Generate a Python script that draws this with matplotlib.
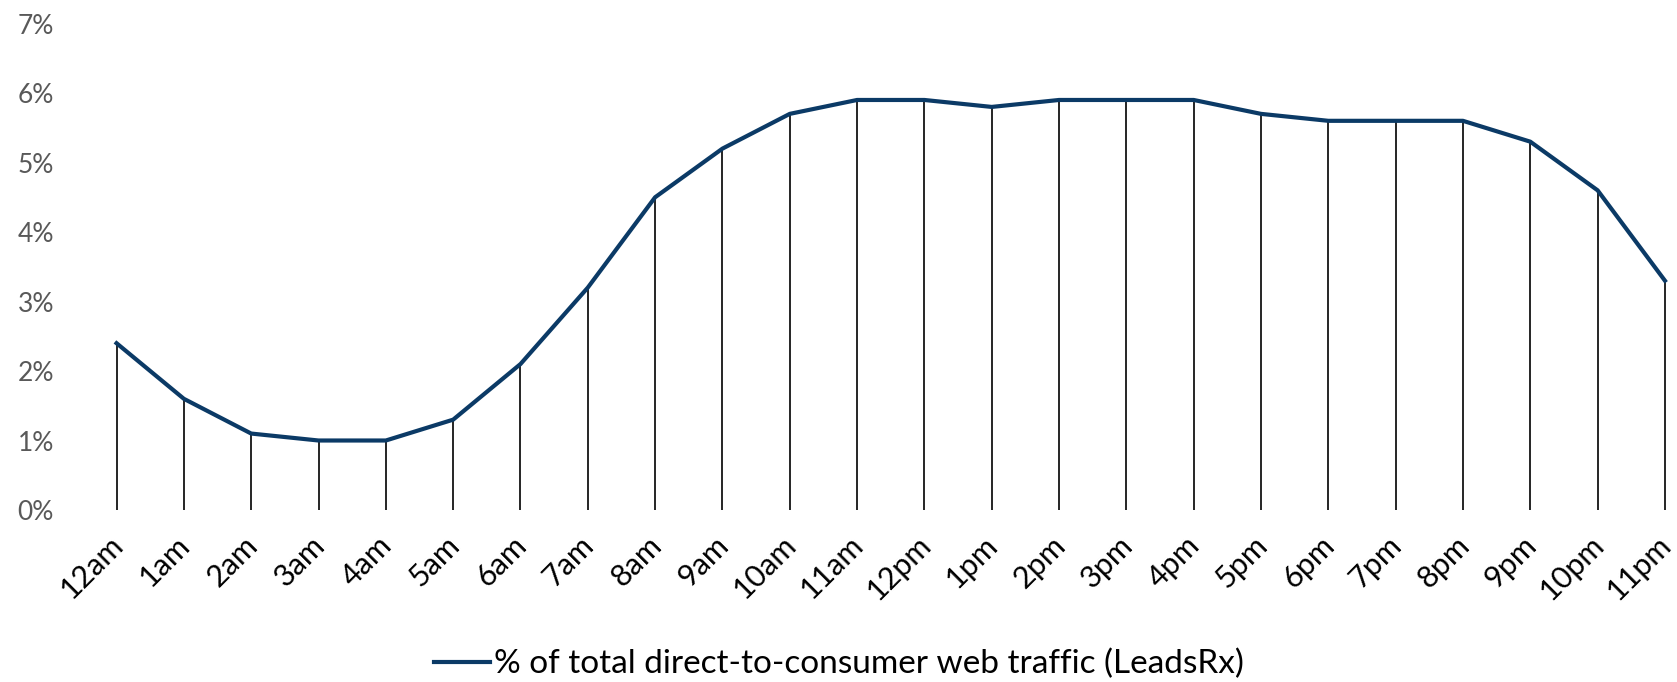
import matplotlib
matplotlib.use("Agg")
import matplotlib.pyplot as plt
import matplotlib.ticker as mticker
import matplotlib.transforms as mtransforms

plt.rcParams['font.family'] = ['Lato', 'DejaVu Sans']

# hourly share of traffic, in percent
hours = ["12am", "1am", "2am", "3am", "4am", "5am", "6am", "7am", "8am", "9am",
         "10am", "11am", "12pm", "1pm", "2pm", "3pm", "4pm", "5pm", "6pm", "7pm",
         "8pm", "9pm", "10pm", "11pm"]
traffic = [2.4, 1.6, 1.1, 1.0, 1.0, 1.3, 2.1, 3.2, 4.5, 5.2,
           5.7, 5.9, 5.9, 5.8, 5.9, 5.9, 5.9, 5.7, 5.6, 5.6,
           5.6, 5.3, 4.6, 3.3]
y_ticks = [0, 1, 2, 3, 4, 5, 6, 7]
series_label = "% of total direct-to-consumer web traffic (LeadsRx)"

fig = plt.figure(figsize=(16.77, 6.82), dpi=100)
ax = fig.add_axes([0.0695, 0.2522, 0.9233, 0.7133])

x = list(range(len(hours)))
line_color = '#0B3A66'

# thin drop lines from the axis up to each point
ax.vlines(x, 0, traffic, color='black', linewidth=1.2, clip_on=False)
ax.plot(x, traffic, color=line_color, linewidth=3, label=series_label,
        solid_joinstyle='round', clip_on=False, zorder=3)

ax.set_xlim(0, len(hours) - 1)
ax.set_ylim(0, 7)
ax.set_yticks(y_ticks)
ax.yaxis.set_major_formatter(mticker.FuncFormatter(lambda v, p: f"{v:.0f}%"))
ax.set_xticks(x)
ax.set_xticklabels(hours, rotation=45, ha='right', va='top', rotation_mode='anchor')

for s in ax.spines.values():
    s.set_visible(False)
ax.tick_params(axis='y', length=0, pad=45, labelsize=19, labelcolor='#595959')
ax.tick_params(axis='x', length=0, pad=15, labelsize=22, labelcolor='black')

# nudge rotated labels a bit left so the last one stays inside the figure
shift = mtransforms.ScaledTranslation(-6 / 72, 0, fig.dpi_scale_trans)
for lbl in ax.get_xticklabels():
    lbl.set_transform(lbl.get_transform() + shift)

fig.legend(loc='lower center', bbox_to_anchor=(0.5, -0.04), frameon=False,
           fontsize=24, handlelength=1.7, handletextpad=0.1)

fig.savefig("out.png", dpi=100)
